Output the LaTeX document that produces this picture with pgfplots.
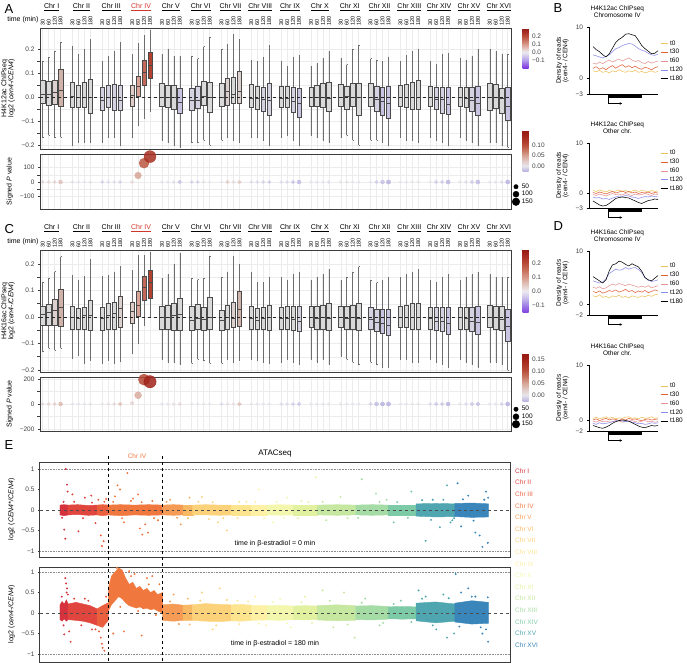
\documentclass[border=0pt]{standalone}
\usepackage{fontspec}
\setmainfont{Liberation Sans}
\usepackage{pgfplots}
\usepackage{pgfplotstable}
\pgfplotsset{compat=1.18}
\usepgfplotslibrary{statistics}
\usetikzlibrary{arrows.meta}

\newcommand\fz[1]{\fontsize{#1bp}{#1bp}\selectfont}

\definecolor{frm}{HTML}{3C3C3C}
\definecolor{bxl}{HTML}{4A4A4A}
\definecolor{wsk}{HTML}{6E6E6E}
\definecolor{grd}{HTML}{ECECEC}
\definecolor{txt}{HTML}{404040}
\definecolor{chrred}{HTML}{D0352A}
% box fills
\definecolor{g0}{HTML}{D9D9D9}
\definecolor{gp1}{HTML}{D5D3E1}
\definecolor{gp2}{HTML}{CAC4E3}
\definecolor{gb1}{HTML}{DCD1CE}
\definecolor{gb2}{HTML}{CFB3AB}
\definecolor{r1}{HTML}{E0CDC8}
\definecolor{r2}{HTML}{D9A497}
\definecolor{r3}{HTML}{C4695A}
\definecolor{r4}{HTML}{B3412F}
% time courses
\definecolor{tz}{HTML}{EDC25E}
\definecolor{tt}{HTML}{E0603A}
\definecolor{ts}{HTML}{E49494}
\definecolor{tw}{HTML}{8B8BE8}
% chromosomes
\definecolor{c1}{RGB}{213,50,62}
\definecolor{c2}{RGB}{224,70,62}
\definecolor{c3}{RGB}{234,95,62}
\definecolor{c4}{RGB}{240,120,62}
\definecolor{c5}{RGB}{245,155,85}
\definecolor{c6}{RGB}{248,185,100}
\definecolor{c7}{RGB}{251,210,122}
\definecolor{c8}{RGB}{253,228,143}
\definecolor{c9}{RGB}{254,240,165}
\definecolor{c10}{RGB}{243,247,174}
\definecolor{c11}{RGB}{226,241,160}
\definecolor{c12}{RGB}{198,231,160}
\definecolor{c13}{RGB}{165,219,164}
\definecolor{c14}{RGB}{125,202,166}
\definecolor{c15}{RGB}{79,166,176}
\definecolor{c16}{RGB}{58,134,187}

\tikzset{chrl/.style={font=\fz{7}, text=black, inner sep=0pt}}

\pgfplotsset{
  gg/.style={scale only axis, clip=false,
    axis line style={frm, line width=0.8bp},
    tick style={frm, line width=0.5bp}, tick align=outside, major tick length=2bp,
    ticklabel style={font=\fz{6.5}, text=txt},
    /pgf/number format/assume math mode=true,
    label style={font=\fz{7}, text=black, align=center},
    ytick pos=left},
  boxax/.style={gg, width=471bp, xmin=-0.45, xmax=78.55,
    xtick={0,1,2,3,5,6,7,8,10,11,12,13,15,16,17,18,20,21,22,23,25,26,27,28,30,31,32,33,35,36,37,38,40,41,42,43,45,46,47,48,50,51,52,53,55,56,57,58,60,61,62,63,65,66,67,68,70,71,72,73,75,76,77,78},
    xtick pos=right, major x tick style={draw=none},
    xmajorgrids, ymajorgrids, yminorgrids, minor y tick num=1,
    major grid style={grd, line width=0.5bp}, minor grid style={grd, line width=0.3bp}},
  timelab/.style={xticklabel pos=right,
    xticklabels={30,60,120,180,30,60,120,180,30,60,120,180,30,60,120,180,30,60,120,180,30,60,120,180,30,60,120,180,30,60,120,180,30,60,120,180,30,60,120,180,30,60,120,180,30,60,120,180,30,60,120,180,30,60,120,180,30,60,120,180,30,60,120,180},
    xticklabel style={rotate=90, anchor=west, font=\fz{5.5}, text=black, inner sep=0.5bp}},
  cbar/.style={scale only axis, width=6bp, at={(parent axis.north east)}, anchor=north west, xshift=3bp,
    axis line style={draw=none}, tick style={draw=none},
    yticklabel style={font=\fz{6.5}, text=txt}, /pgf/number format/assume math mode=true},
  bubble/.style={scatter, only marks, mark=*, point meta=\thisrow{m},
    scatter/use mapped color={draw=mapped color, fill=mapped color},
    visualization depends on={\thisrow{s}\as\perpointmarksize},
    scatter/@pre marker code/.append style={/tikz/mark size=\perpointmarksize},
    fill opacity=0.85, draw opacity=0.85},
  bleg/.style={legend style={at={(1,0.5)}, anchor=north west, xshift=1bp, draw=none, fill=none,
    font=\fz{6.5}, inner sep=0pt, row sep=-2.5bp, legend cell align=left}},
  bax/.style={scale only axis, width=69bp, xmin=-3.7, xmax=60, xtick=\empty, clip=false,
    axis x line*=bottom, axis y line*=left, axis line style={black, line width=0.5bp},
    ytick pos=left, tick style={black, line width=0.5bp}, tick align=outside, major tick length=2.5bp,
    ticklabel style={font=\fz{6.5}, text=txt}, /pgf/number format/assume math mode=true,
    title style={font=\fz{6.5}, align=center, at={(0.41,1)}, anchor=south, yshift=0bp},
    ylabel={Density of reads\\(cen4- / CEN4)}, ylabel style={font=\fz{6.5}, align=center},
    legend style={anchor=north west, draw=none, fill=none, font=\fz{6.5},
      inner sep=0pt, row sep=-1.2bp, legend cell align=left},
    legend image code/.code={\draw[##1, line width=0.9bp] (0bp,0bp) -- (7bp,0bp);},
    every axis plot/.append style={line width=0.55bp, mark=none}},
  eax/.style={gg, width=470.5bp, height=95bp, xmin=-563, xmax=12690, xtick=\empty,
    ytick={-1,-0.5,0,0.5,1}, yticklabels={−1,−0.5,0,0.5,1}, axis line style={frm, line width=1bp}},
  escat/.style={scatter, only marks, mark=*, mark size=0.75bp, scatter src=explicit symbolic,
    scatter/classes={1={c1},2={c2},3={c3},4={c4},5={c5},6={c6},7={c7},8={c8},9={c9},10={c10},11={c11},12={c12},13={c13},14={c14},15={c15},16={c16}}}
}

\newcommand\bx[7]{\addplot[boxplot prepared={draw direction=y, draw position=#1, lower whisker=#2, lower quartile=#3, median=#4, upper quartile=#5, upper whisker=#6, box extend=0.74, whisker extend=0.01, every whisker/.style={wsk}}, draw=bxl, fill=#7, line width=0.5bp] coordinates {};}
\newcommand\band[2]{\addplot[fill=#1, draw=#1, line width=0.4bp] coordinates {#2} -- cycle;}
\newcommand\tlines[1]{%
  \addplot[tz] table[x=x,y=t0]{#1};
  \addplot[tt] table[x=x,y=t30]{#1};
  \addplot[ts] table[x=x,y=t60]{#1};
  \addplot[tw] table[x=x,y=t120]{#1};
  \addplot[black] table[x=x,y=t180]{#1};
  \legend{t0,t30,t60,t120,t180}}
\newcommand\gene[1]{%
  \draw[line width=3.5bp] ([yshift=-2.2bp]axis cs:14,#1) -- ([yshift=-2.2bp]axis cs:45.2,#1);
  \draw[line width=0.6bp, -{Stealth[length=2.6bp,width=2.6bp]}] ([yshift=-3.5bp]axis cs:14,#1) -- ++(0bp,-6bp) -- ++(14bp,0bp);}
\newcommand\chrlabs[1]{%
  \node[chrl] at (axis cs:1.5,#1) {\underline{Chr I}};
  \node[chrl] at (axis cs:6.5,#1) {\underline{Chr II}};
  \node[chrl] at (axis cs:11.5,#1) {\underline{Chr III}};
  \node[chrl,text=chrred] at (axis cs:16.5,#1) {\underline{Chr IV}};
  \node[chrl] at (axis cs:21.5,#1) {\underline{Chr V}};
  \node[chrl] at (axis cs:26.5,#1) {\underline{Chr VI}};
  \node[chrl] at (axis cs:31.5,#1) {\underline{Chr VII}};
  \node[chrl] at (axis cs:36.5,#1) {\underline{Chr VIII}};
  \node[chrl] at (axis cs:41.5,#1) {\underline{Chr IX}};
  \node[chrl] at (axis cs:46.5,#1) {\underline{Chr X}};
  \node[chrl] at (axis cs:51.5,#1) {\underline{Chr XI}};
  \node[chrl] at (axis cs:56.5,#1) {\underline{Chr XII}};
  \node[chrl] at (axis cs:61.5,#1) {\underline{Chr XIII}};
  \node[chrl] at (axis cs:66.5,#1) {\underline{Chr XIV}};
  \node[chrl] at (axis cs:71.5,#1) {\underline{Chr XV}};
  \node[chrl] at (axis cs:76.5,#1) {\underline{Chr XVI}};}

% density profiles (B, D)
\pgfplotstableread{
x t0 t30 t60 t120 t180
0 1.5 2.0 3.0 4.6 6.2
3 1.3 2.3 2.8 4.4 5.6
6 1.6 1.8 3.2 4.2 5.2
9 1.2 2.1 2.9 4.0 4.6
12 1.4 1.7 3.3 4.3 4.2
15 1.1 2.2 3.6 4.6 4.8
18 1.5 2.5 3.2 5.2 5.9
21 1.3 2.0 3.5 5.8 7.0
24 1.7 2.4 3.8 6.0 7.6
27 1.4 2.7 3.4 6.4 8.0
30 1.2 2.2 3.7 6.6 8.6
33 1.5 2.5 4.0 6.8 8.7
36 1.3 2.1 3.6 6.7 8.5
39 1.6 2.4 3.3 6.3 8.3
42 1.2 2.0 3.5 5.8 7.4
45 1.4 1.8 3.1 5.5 6.4
48 1.1 2.2 2.9 5.3 5.8
51 1.3 2.0 3.3 4.9 5.3
54 1.5 1.7 3.0 4.6 4.8
57 1.2 2.1 3.2 4.5 4.9
60 1.4 2.3 3.4 4.7 5.4
}\BA
\pgfplotstableread{
x t0 t30 t60 t120 t180
0 0.5 0.1 -0.3 -0.8 -1.6
3 0.3 -0.1 -0.5 -1.0 -2.0
6 0.6 0.2 -0.2 -0.9 -2.4
9 0.4 0.0 -0.4 -1.2 -2.6
12 0.2 -0.2 -0.6 -1.1 -2.5
15 0.5 0.1 -0.3 -1.3 -2.1
18 0.3 0.3 -0.1 -1.0 -1.6
21 0.4 0.0 -0.3 -0.8 -1.1
24 0.6 0.2 -0.2 -0.6 -0.9
27 0.3 0.4 -0.4 -0.7 -0.8
30 0.5 0.1 -0.1 -0.5 -0.9
33 0.2 0.3 -0.3 -0.6 -1.0
36 0.4 0.0 -0.5 -0.8 -1.3
39 0.6 0.2 -0.2 -0.9 -1.6
42 0.3 -0.1 -0.4 -1.1 -1.9
45 0.5 0.1 -0.3 -0.9 -2.1
48 0.4 0.0 -0.1 -0.7 -1.8
51 0.2 0.2 -0.3 -0.8 -1.5
54 0.5 -0.1 -0.5 -0.6 -1.4
57 0.3 0.1 -0.2 -0.7 -1.2
60 0.4 0.0 -0.3 -0.8 -1.3
}\BB
\pgfplotstableread{
x t0 t30 t60 t120 t180
0 1.6 2.4 3.2 4.4 5.2
3 1.4 2.2 3.0 4.2 4.8
6 1.8 2.5 3.3 4.0 4.4
9 1.3 2.1 2.9 4.2 4.0
12 1.5 2.3 3.1 4.8 4.6
15 1.2 2.6 3.5 5.8 6.3
18 1.6 2.4 3.8 6.2 7.4
21 1.4 2.7 3.6 6.6 7.6
24 1.7 2.3 3.9 6.4 8.1
27 1.3 2.5 3.7 6.5 7.9
30 1.5 2.8 3.5 6.9 7.5
33 1.2 2.4 3.8 6.6 7.2
36 1.6 2.6 3.6 6.8 7.6
39 1.4 2.2 3.4 6.9 7.3
42 1.3 2.5 3.2 6.5 7.0
45 1.6 2.3 3.4 6.0 6.2
48 1.4 2.6 3.2 5.0 5.0
51 1.7 2.2 3.5 4.5 4.6
54 1.5 2.4 3.1 4.3 4.4
57 1.8 2.7 3.3 4.4 4.9
60 1.9 2.5 3.5 4.6 5.4
}\DA
\pgfplotstableread{
x t0 t30 t60 t120 t180
0 0.3 0.0 -0.2 -0.6 -1.0
3 0.5 0.2 -0.4 -0.8 -1.2
6 0.2 -0.1 -0.1 -0.5 -1.4
9 0.4 0.1 -0.3 -0.7 -1.5
12 0.6 0.3 -0.2 -0.6 -1.3
15 0.3 0.0 -0.4 -0.5 -1.0
18 0.5 0.2 -0.3 -0.3 -0.6
21 0.2 0.1 -0.1 -0.2 -0.3
24 0.4 -0.1 -0.2 -0.1 -0.1
27 0.3 0.2 -0.4 -0.2 0.0
30 0.5 0.0 -0.3 -0.3 -0.1
33 0.6 0.3 -0.2 -0.2 -0.2
36 0.3 0.1 -0.1 -0.4 -0.5
39 0.4 0.2 -0.3 -0.5 -0.8
42 0.2 0.0 -0.4 -0.7 -1.1
45 0.5 -0.1 -0.2 -0.6 -1.3
48 0.3 0.1 -0.1 -0.8 -1.4
51 0.4 0.2 -0.3 -0.7 -1.2
54 0.6 0.0 -0.2 -0.5 -1.0
57 0.3 0.1 -0.4 -0.6 -1.1
60 0.4 0.2 -0.3 -0.5 -1.0
}\DB

\begin{document}
\begin{tikzpicture}
\path[use as bounding box] (0bp,0bp) rectangle (687bp,-663bp);

% ---------------- A: H4K12ac boxes ----------------
\begin{axis}[boxax, timelab, at={(40bp,-28bp)}, anchor=north west, height=121bp,
  ymin=-0.217, ymax=0.2875, ytick={-0.2,-0.1,0,0.1,0.2}, yticklabels={−0.2,−0.1,0.0,0.1,0.2},
  ylabel={H4K12ac ChIPseq\\log2 (\textit{cen4-/CEN4})},
  colorbar, colormap={boxA}{rgb255=(125,50,225) rgb255=(180,160,232) rgb255=(238,236,240) rgb255=(215,150,135) rgb255=(185,75,55) rgb255=(150,22,18)},
  point meta min=-0.2, point meta max=0.3,
  colorbar style={cbar, height=40bp, ytick={-0.1,0,0.1,0.2}, yticklabels={−0.1,0.0,0.1,0.2}}]
\bx{0}{-0.17}{-0.025}{0.013}{0.07}{0.15}{g0}
\bx{1}{-0.16}{-0.035}{0.01}{0.065}{0.165}{g0}
\bx{2}{-0.17}{-0.03}{0.018}{0.07}{0.19}{gb1}
\bx{3}{-0.167}{-0.04}{0.028}{0.115}{0.23}{gb2}
\bx{5}{-0.2}{-0.045}{0.005}{0.06}{0.21}{g0}
\bx{6}{-0.19}{-0.045}{0}{0.05}{0.18}{g0}
\bx{7}{-0.19}{-0.045}{0}{0.06}{0.2}{g0}
\bx{8}{-0.19}{-0.07}{0}{0.075}{0.24}{g0}
\bx{10}{-0.19}{-0.055}{-0.015}{0.04}{0.15}{gp1}
\bx{11}{-0.17}{-0.045}{0}{0.05}{0.17}{gp1}
\bx{12}{-0.17}{-0.055}{0}{0.055}{0.19}{gp1}
\bx{13}{-0.2}{-0.055}{-0.015}{0.05}{0.23}{gp1}
\bx{15}{-0.17}{-0.037}{0.008}{0.05}{0.18}{r1}
\bx{16}{-0.12}{0.001}{0.046}{0.088}{0.225}{r2}
\bx{17}{-0.09}{0.05}{0.101}{0.154}{0.258}{r3}
\bx{18}{-0.06}{0.078}{0.133}{0.185}{0.28}{r4}
\bx{20}{-0.18}{-0.04}{0}{0.058}{0.18}{g0}
\bx{21}{-0.19}{-0.043}{0}{0.05}{0.2}{g0}
\bx{22}{-0.2}{-0.05}{0}{0.05}{0.17}{g0}
\bx{23}{-0.21}{-0.07}{-0.02}{0.037}{0.17}{gp2}
\bx{25}{-0.19}{-0.055}{-0.014}{0.037}{0.17}{gp1}
\bx{26}{-0.19}{-0.048}{-0.012}{0.043}{0.16}{gp1}
\bx{27}{-0.18}{-0.035}{0.005}{0.066}{0.21}{g0}
\bx{28}{-0.2}{-0.065}{0}{0.06}{0.25}{g0}
\bx{30}{-0.18}{-0.04}{0}{0.058}{0.2}{g0}
\bx{31}{-0.17}{-0.033}{0.025}{0.079}{0.22}{gb1}
\bx{32}{-0.18}{-0.025}{0.012}{0.083}{0.26}{g0}
\bx{33}{-0.19}{-0.025}{0.025}{0.108}{0.24}{gb1}
\bx{35}{-0.17}{-0.045}{-0.004}{0.054}{0.154}{g0}
\bx{36}{-0.17}{-0.05}{-0.007}{0.046}{0.147}{g0}
\bx{37}{-0.18}{-0.06}{-0.01}{0.042}{0.167}{gp1}
\bx{38}{-0.2}{-0.077}{-0.015}{0.058}{0.215}{gp1}
\bx{40}{-0.17}{-0.045}{-0.004}{0.046}{0.15}{g0}
\bx{41}{-0.16}{-0.045}{-0.007}{0.043}{0.13}{g0}
\bx{42}{-0.18}{-0.065}{-0.019}{0.04}{0.167}{gp1}
\bx{43}{-0.2}{-0.083}{-0.026}{0.036}{0.174}{gp2}
\bx{45}{-0.16}{-0.04}{-0.003}{0.04}{0.13}{g0}
\bx{46}{-0.17}{-0.04}{0}{0.05}{0.14}{g0}
\bx{47}{-0.18}{-0.045}{-0.003}{0.057}{0.16}{g0}
\bx{48}{-0.19}{-0.06}{-0.005}{0.06}{0.19}{g0}
\bx{50}{-0.17}{-0.04}{0}{0.054}{0.16}{g0}
\bx{51}{-0.16}{-0.05}{0.003}{0.046}{0.135}{g0}
\bx{52}{-0.18}{-0.037}{0}{0.058}{0.2}{g0}
\bx{53}{-0.2}{-0.077}{-0.003}{0.056}{0.215}{g0}
\bx{55}{-0.18}{-0.04}{0}{0.056}{0.16}{g0}
\bx{56}{-0.18}{-0.06}{-0.01}{0.043}{0.155}{gp1}
\bx{57}{-0.19}{-0.077}{-0.019}{0.04}{0.15}{gp2}
\bx{58}{-0.2}{-0.087}{-0.026}{0.046}{0.165}{gp2}
\bx{60}{-0.17}{-0.04}{0}{0.05}{0.15}{g0}
\bx{61}{-0.18}{-0.045}{0}{0.054}{0.174}{g0}
\bx{62}{-0.18}{-0.05}{0}{0.06}{0.19}{g0}
\bx{63}{-0.19}{-0.05}{0}{0.07}{0.2}{g0}
\bx{65}{-0.17}{-0.04}{0}{0.043}{0.147}{g0}
\bx{66}{-0.18}{-0.05}{-0.01}{0.04}{0.137}{gp1}
\bx{67}{-0.19}{-0.066}{-0.01}{0.04}{0.178}{gp1}
\bx{68}{-0.2}{-0.074}{-0.03}{0.04}{0.183}{gp2}
\bx{70}{-0.17}{-0.04}{0}{0.04}{0.16}{g0}
\bx{71}{-0.18}{-0.045}{-0.005}{0.04}{0.155}{g0}
\bx{72}{-0.19}{-0.06}{-0.015}{0.04}{0.17}{gp1}
\bx{73}{-0.2}{-0.075}{-0.025}{0.045}{0.2}{gp2}
\bx{75}{-0.19}{-0.054}{0}{0.058}{0.2}{g0}
\bx{76}{-0.19}{-0.046}{0}{0.054}{0.19}{g0}
\bx{77}{-0.2}{-0.067}{-0.004}{0.037}{0.18}{g0}
\bx{78}{-0.21}{-0.096}{-0.04}{0.042}{0.18}{gp2}
\addplot[dashed, black!85, line width=0.6bp] coordinates {(-0.45,0) (78.55,0)};
\chrlabs{0.375}
\end{axis}

% ---------------- A: signed P ----------------
\begin{axis}[boxax, at={(40bp,-154bp)}, anchor=north west, height=55bp, xticklabels={},
  ymin=-186, ymax=193, ytick={-100,0,100}, yticklabels={−100,0,100}, minor y tick num=1,
  ylabel={Signed \textit{P} value}, bleg,
  colorbar, colormap={bub}{rgb255=(185,180,225) rgb255=(232,230,236) rgb255=(225,200,195) rgb255=(215,165,150) rgb255=(200,120,100) rgb255=(185,80,60) rgb255=(172,55,40) rgb255=(160,35,25) rgb255=(150,25,18)},
  point meta min=-0.025, point meta max=0.175,
  colorbar style={cbar, height=41bp, yshift=24bp, ytick={0,0.05,0.1}, yticklabels={0.00,0.05,0.10}}]
\addlegendimage{only marks, mark=*, mark size=2.2bp, black}
\addlegendimage{only marks, mark=*, mark size=3bp, black}
\addlegendimage{only marks, mark=*, mark size=3.8bp, black}
\addplot[bubble] table {
x y s m
0 0 1.7 0.012
1 0 1.7 0.01
2 0 1.7 0.015
3 0 2.0 0.03
5 0 1.6 0.004
6 0 1.6 0.0
7 0 1.6 0.0
8 0 1.6 0.003
10 0 1.6 -0.01
11 0 1.6 -0.004
12 0 1.6 -0.004
13 0 1.7 -0.008
15 0 1.8 0.01
16 45 3.3 0.05
17 130 5.0 0.095
18 175 6.0 0.135
20 0 1.6 0.0
21 0 1.6 0.0
22 0 1.6 -0.003
23 0 1.9 -0.018
25 0 1.6 -0.01
26 0 1.6 -0.01
27 0 1.6 0.005
28 0 1.6 0.0
30 0 1.6 0.0
31 0 1.8 0.02
32 0 1.7 0.01
33 0 1.9 0.025
35 0 1.6 -0.004
36 0 1.6 -0.006
37 0 1.6 -0.01
38 0 1.7 -0.014
40 0 1.6 -0.004
41 0 1.6 -0.006
42 0 1.8 -0.016
43 0 2.0 -0.022
45 0 1.6 0.0
46 0 1.6 0.0
47 0 1.6 0.0
48 0 1.6 -0.004
50 0 1.6 0.0
51 0 1.6 0.003
52 0 1.6 0.0
53 0 1.6 0.0
55 0 1.6 0.0
56 0 1.8 -0.012
57 0 2.0 -0.018
58 0 2.2 -0.024
60 0 1.6 0.0
61 0 1.6 0.0
62 0 1.6 0.0
63 0 1.6 0.0
65 0 1.6 0.0
66 0 1.8 -0.012
67 0 1.8 -0.012
68 0 2.1 -0.022
70 0 1.6 0.0
71 0 1.6 -0.004
72 0 1.8 -0.012
73 0 2.1 -0.02
75 0 1.6 0.0
76 0 1.6 0.0
77 0 1.6 -0.004
78 0 2.1 -0.025
};
\legend{50,100,150}
\end{axis}

% ---------------- C: H4K16ac boxes ----------------
\begin{axis}[boxax, timelab, at={(40bp,-250bp)}, anchor=north west, height=122bp,
  ymin=-0.208, ymax=0.253, ytick={-0.2,-0.1,0,0.1,0.2}, yticklabels={−0.2,−0.1,0.0,0.1,0.2},
  ylabel={H4K16ac ChIPseq\\log2 (\textit{cen4-/CEN4})},
  colorbar, colormap={boxC}{rgb255=(130,70,225) rgb255=(160,130,230) rgb255=(200,190,235) rgb255=(238,236,240) rgb255=(225,195,185) rgb255=(215,150,135) rgb255=(200,110,90) rgb255=(185,75,55) rgb255=(168,45,35) rgb255=(150,22,18)},
  point meta min=-0.15, point meta max=0.3,
  colorbar style={cbar, height=63bp, yshift=1bp, ytick={-0.1,0,0.1,0.2}, yticklabels={−0.1,0.0,0.1,0.2}}]
\bx{0}{-0.131}{-0.03}{0.011}{0.039}{0.133}{g0}
\bx{1}{-0.117}{-0.03}{0.019}{0.049}{0.148}{g0}
\bx{2}{-0.125}{-0.03}{0.026}{0.068}{0.171}{gb1}
\bx{3}{-0.117}{-0.035}{0.035}{0.105}{0.228}{gb2}
\bx{5}{-0.155}{-0.045}{-0.001}{0.039}{0.158}{g0}
\bx{6}{-0.143}{-0.045}{-0.005}{0.033}{0.14}{g0}
\bx{7}{-0.175}{-0.045}{0.005}{0.037}{0.152}{g0}
\bx{8}{-0.162}{-0.05}{0.005}{0.062}{0.218}{g0}
\bx{10}{-0.175}{-0.05}{-0.005}{0.037}{0.152}{g0}
\bx{11}{-0.162}{-0.045}{0.008}{0.05}{0.158}{g0}
\bx{12}{-0.175}{-0.045}{0.015}{0.055}{0.17}{g0}
\bx{13}{-0.168}{-0.04}{0.033}{0.08}{0.19}{gb1}
\bx{15}{-0.137}{-0.023}{0.02}{0.054}{0.177}{r1}
\bx{16}{-0.1}{0.001}{0.045}{0.096}{0.234}{r2}
\bx{17}{-0.03}{0.064}{0.114}{0.152}{0.234}{r3}
\bx{18}{0.0}{0.07}{0.131}{0.177}{0.246}{r4}
\bx{20}{-0.16}{-0.045}{0}{0.04}{0.147}{g0}
\bx{21}{-0.17}{-0.045}{0}{0.043}{0.16}{g0}
\bx{22}{-0.17}{-0.05}{0.005}{0.052}{0.2}{g0}
\bx{23}{-0.18}{-0.05}{0.01}{0.07}{0.24}{g0}
\bx{25}{-0.175}{-0.05}{-0.011}{0.04}{0.147}{g0}
\bx{26}{-0.16}{-0.045}{-0.005}{0.048}{0.141}{g0}
\bx{27}{-0.165}{-0.05}{-0.008}{0.035}{0.147}{g0}
\bx{28}{-0.175}{-0.045}{0}{0.075}{0.231}{g0}
\bx{30}{-0.175}{-0.05}{-0.011}{0.025}{0.15}{g0}
\bx{31}{-0.16}{-0.045}{0}{0.043}{0.17}{g0}
\bx{32}{-0.17}{-0.04}{-0.005}{0.057}{0.23}{gb1}
\bx{33}{-0.165}{-0.035}{0.03}{0.096}{0.2}{gb2}
\bx{35}{-0.16}{-0.045}{-0.006}{0.04}{0.17}{g0}
\bx{36}{-0.165}{-0.045}{-0.011}{0.034}{0.13}{g0}
\bx{37}{-0.17}{-0.045}{-0.006}{0.037}{0.13}{g0}
\bx{38}{-0.175}{-0.05}{0}{0.045}{0.15}{g0}
\bx{40}{-0.17}{-0.045}{-0.005}{0.035}{0.15}{g0}
\bx{41}{-0.16}{-0.045}{-0.005}{0.04}{0.14}{g0}
\bx{42}{-0.17}{-0.05}{-0.01}{0.04}{0.16}{g0}
\bx{43}{-0.18}{-0.055}{-0.015}{0.04}{0.17}{gp1}
\bx{45}{-0.16}{-0.04}{0}{0.04}{0.14}{g0}
\bx{46}{-0.17}{-0.045}{-0.005}{0.04}{0.15}{g0}
\bx{47}{-0.16}{-0.045}{0}{0.045}{0.16}{g0}
\bx{48}{-0.18}{-0.05}{-0.005}{0.05}{0.18}{g0}
\bx{50}{-0.15}{-0.04}{0}{0.04}{0.14}{g0}
\bx{51}{-0.16}{-0.045}{-0.005}{0.04}{0.15}{g0}
\bx{52}{-0.17}{-0.045}{0}{0.045}{0.17}{g0}
\bx{53}{-0.18}{-0.05}{-0.005}{0.05}{0.19}{g0}
\bx{55}{-0.17}{-0.045}{-0.01}{0.035}{0.14}{gp1}
\bx{56}{-0.18}{-0.055}{-0.02}{0.03}{0.13}{gp1}
\bx{57}{-0.19}{-0.06}{-0.025}{0.03}{0.14}{gp2}
\bx{58}{-0.19}{-0.07}{-0.03}{0.03}{0.15}{gp2}
\bx{60}{-0.16}{-0.04}{0}{0.04}{0.15}{g0}
\bx{61}{-0.16}{-0.04}{0}{0.045}{0.16}{g0}
\bx{62}{-0.17}{-0.045}{0}{0.05}{0.17}{g0}
\bx{63}{-0.17}{-0.045}{0}{0.05}{0.18}{g0}
\bx{65}{-0.16}{-0.045}{-0.005}{0.035}{0.14}{g0}
\bx{66}{-0.17}{-0.05}{-0.015}{0.035}{0.13}{gp1}
\bx{67}{-0.18}{-0.055}{-0.015}{0.035}{0.15}{gp1}
\bx{68}{-0.19}{-0.065}{-0.025}{0.035}{0.16}{gp2}
\bx{70}{-0.16}{-0.045}{0}{0.035}{0.14}{g0}
\bx{71}{-0.17}{-0.045}{-0.005}{0.035}{0.15}{g0}
\bx{72}{-0.18}{-0.055}{-0.015}{0.035}{0.16}{gp1}
\bx{73}{-0.19}{-0.065}{-0.02}{0.04}{0.17}{gp2}
\bx{75}{-0.17}{-0.04}{0}{0.045}{0.16}{g0}
\bx{76}{-0.17}{-0.045}{0}{0.04}{0.15}{g0}
\bx{77}{-0.18}{-0.05}{-0.01}{0.04}{0.15}{g0}
\bx{78}{-0.2}{-0.09}{-0.035}{0.03}{0.15}{gp2}
\addplot[dashed, black!85, line width=0.6bp] coordinates {(-0.45,0) (78.55,0)};
\chrlabs{0.336}
\end{axis}

% ---------------- C: signed P ----------------
\begin{axis}[boxax, at={(40bp,-377bp)}, anchor=north west, height=54bp, xticklabels={},
  ymin=-216, ymax=216, ytick={-200,0,200}, yticklabels={−200,0,200}, minor y tick num=1,
  ylabel={Signed \textit{P} value}, bleg,
  colorbar, colormap={bub}{rgb255=(185,180,225) rgb255=(232,230,236) rgb255=(225,200,195) rgb255=(215,165,150) rgb255=(200,120,100) rgb255=(185,80,60) rgb255=(172,55,40) rgb255=(160,35,25) rgb255=(150,25,18)},
  point meta min=-0.025, point meta max=0.175,
  colorbar style={cbar, height=48bp, yshift=24bp, ytick={0,0.05,0.1,0.15}, yticklabels={0.00,0.05,0.10,0.15}}]
\addlegendimage{only marks, mark=*, mark size=2.2bp, black}
\addlegendimage{only marks, mark=*, mark size=3bp, black}
\addlegendimage{only marks, mark=*, mark size=3.8bp, black}
\addplot[bubble] table {
x y s m
0 0 1.7 0.01
1 0 1.7 0.015
2 0 1.7 0.02
3 0 2.0 0.035
5 0 1.6 0.0
6 0 1.6 0.0
7 0 1.6 0.0
8 0 1.6 0.003
10 0 1.6 0.0
11 0 1.6 0.005
12 0 1.7 0.01
13 0 1.9 0.03
15 8 1.9 0.015
16 70 3.5 0.045
17 195 5.6 0.11
18 178 6.2 0.15
20 0 1.6 0.0
21 0 1.6 0.0
22 0 1.6 0.005
23 0 1.7 0.01
25 0 1.6 0.0
26 0 1.6 0.0
27 0 1.6 0.0
28 0 1.6 0.0
30 0 1.6 -0.005
31 0 1.6 0.005
32 0 1.6 0.005
33 0 1.9 0.03
35 0 1.6 0.0
36 0 1.6 0.0
37 0 1.6 0.0
38 0 1.6 0.0
40 0 1.6 -0.005
41 0 1.6 -0.005
42 0 1.7 -0.01
43 0 1.8 -0.015
45 0 1.6 0.0
46 0 1.6 0.0
47 0 1.6 0.0
48 0 1.6 0.0
50 0 1.6 0.0
51 0 1.6 0.0
52 0 1.6 0.0
53 0 1.6 0.0
55 0 1.8 -0.01
56 0 2.0 -0.02
57 0 2.1 -0.025
58 0 2.2 -0.03
60 0 1.6 0.0
61 0 1.6 0.0
62 0 1.6 0.0
63 0 1.6 0.0
65 0 1.6 -0.005
66 0 1.8 -0.015
67 0 1.8 -0.015
68 0 2.0 -0.025
70 0 1.6 0.0
71 0 1.6 -0.005
72 0 1.8 -0.015
73 0 1.9 -0.02
75 0 1.6 0.0
76 0 1.6 0.0
77 0 1.7 -0.01
78 0 2.1 -0.035
};
\legend{50,100,150}
\end{axis}

% ---------------- B, D: density profiles ----------------
\begin{axis}[bax, at={(589bp,-27bp)}, anchor=north west, height=67bp, ymin=-3, ymax=10,
  ytick={-3,0,10}, yticklabels={−3,0,10}, title={H4K12ac ChIPseq\\Chromosome IV},
  legend style={at={(1.03,0.83)}}]
\tlines{\BA}
\gene{-3}
\end{axis}
\begin{axis}[bax, at={(589bp,-143bp)}, anchor=north west, height=65bp, ymin=-3, ymax=10,
  ytick={-3,0,10}, yticklabels={−3,0,10}, title={H4K12ac ChIPseq\\Other chr.},
  legend style={at={(1.03,0.92)}}]
\tlines{\BB}
\gene{-3}
\end{axis}
\begin{axis}[bax, at={(589bp,-251bp)}, anchor=north west, height=64bp, ymin=-2, ymax=10,
  ytick={-2,0,10}, yticklabels={−2,0,10}, title={H4K16ac ChIPseq\\Chromosome IV},
  legend style={at={(1.03,0.84)}}]
\tlines{\DA}
\gene{-2}
\end{axis}
\begin{axis}[bax, at={(589bp,-365bp)}, anchor=north west, height=66bp, ymin=-2, ymax=10,
  ytick={-2,0,10}, yticklabels={−2,0,10}, title={H4K16ac ChIPseq\\Other chr.},
  legend style={at={(1.03,0.76)}}]
\tlines{\DB}
\gene{-2}
\end{axis}

% ---------------- E: ATACseq ----------------
\begin{axis}[eax, at={(40bp,-462bp)}, anchor=north west, ymin=-1.146, ymax=1.17,
  ylabel={log2 (\textit{CEN4*/CEN4})}]
\draw[densely dotted, black!45, line width=0.6bp] (axis cs:-563,1) -- (axis cs:12690,1);
\draw[densely dotted, black!45, line width=0.6bp] (axis cs:-563,-1) -- (axis cs:12690,-1);
\band{c1}{(0,0.12)(115,0.13)(230,0.12)(230,-0.12)(115,-0.14)(0,-0.12)}
\band{c2}{(230,0.12)(500,0.13)(800,0.11)(1043,0.12)(1043,-0.12)(800,-0.13)(500,-0.11)(230,-0.12)}
\band{c3}{(1043,0.12)(1200,0.13)(1360,0.12)(1360,-0.12)(1200,-0.14)(1043,-0.12)}
\band{c4}{(1360,0.12)(1700,0.13)(2100,0.12)(2500,0.13)(2892,0.12)(2892,-0.12)(2500,-0.13)(2100,-0.12)(1700,-0.14)(1360,-0.12)}
\band{c5}{(2892,0.12)(3200,0.13)(3469,0.12)(3469,-0.12)(3200,-0.13)(2892,-0.12)}
\band{c6}{(3469,0.12)(3739,0.12)(3739,-0.12)(3469,-0.12)}
\band{c7}{(3739,0.12)(4100,0.13)(4500,0.12)(4830,0.12)(4830,-0.12)(4500,-0.13)(4100,-0.12)(3739,-0.12)}
\band{c8}{(4830,0.12)(5100,0.12)(5393,0.12)(5393,-0.12)(5100,-0.12)(4830,-0.12)}
\band{c9}{(5393,0.12)(5833,0.12)(5833,-0.12)(5393,-0.12)}
\band{c10}{(5833,0.12)(6200,0.13)(6579,0.12)(6579,-0.12)(6200,-0.13)(5833,-0.12)}
\band{c11}{(6579,0.12)(6900,0.12)(7246,0.12)(7246,-0.12)(6900,-0.12)(6579,-0.12)}
\band{c12}{(7246,0.12)(7800,0.13)(8324,0.12)(8324,-0.12)(7800,-0.13)(7246,-0.12)}
\band{c13}{(8324,0.12)(8800,0.13)(9248,0.12)(9248,-0.12)(8800,-0.13)(8324,-0.12)}
\band{c14}{(9248,0.12)(9640,0.12)(10032,0.12)(10032,-0.12)(9640,-0.12)(9248,-0.12)}
\band{c15}{(10032,0.15)(10580,0.16)(11123,0.15)(11123,-0.16)(10580,-0.17)(10032,-0.15)}
\band{c16}{(11123,0.16)(11600,0.17)(12071,0.15)(12071,-0.17)(11600,-0.18)(11123,-0.16)}
\addplot[escat] table[meta=c] {
x y c
161 1.0 1
198 0.62 1
215 0.45 1
150 -0.7 1
120 -0.48 1
100 0.2 1
60 -0.19 1
350 0.38 2
520 -0.52 2
700 0.3 2
880 0.35 2
1000 -0.32 2
400 0.2 2
650 -0.2 2
900 0.18 2
1080 0.25 3
1150 -0.62 3
1180 -0.88 3
1230 -0.76 3
1300 0.27 3
1250 0.2 3
1900 0.9 4
1620 0.6 4
1690 0.5 4
1550 0.33 4
2060 0.28 4
2200 0.38 4
2250 -0.45 4
2320 -0.6 4
2400 -0.35 4
2480 -0.55 4
2600 0.22 4
1800 -0.3 4
2760 -0.25 4
1500 0.2 4
1750 -0.2 4
2000 0.22 4
2300 0.19 4
2650 -0.2 4
3100 0.25 5
3400 -0.35 5
3000 0.2 5
3300 -0.19 5
3650 0.3 6
3600 -0.2 6
4000 0.32 7
4200 -0.22 7
4450 -0.3 7
4700 -0.5 7
3900 0.2 7
4300 0.19 7
4600 -0.2 7
5050 0.2 8
5000 -0.19 8
5250 0.2 8
5600 0.5 9
5500 0.19 9
5750 -0.2 9
6000 -0.3 10
6400 0.3 10
6100 0.2 10
6300 -0.19 10
6800 0.22 11
7200 0.8 11
6700 -0.2 11
7000 0.19 11
7500 -0.25 12
7900 0.32 12
7400 0.2 12
8100 -0.2 12
8500 0.75 13
8900 0.4 13
9200 0.25 13
8400 -0.19 13
9000 0.2 13
9400 -0.3 14
9900 0.45 14
9500 0.19 14
9800 -0.19 14
10300 -0.75 15
10500 0.25 15
10700 -0.42 15
10900 0.6 15
11000 -0.3 15
11100 -0.2 15
10200 0.24 15
10450 -0.24 15
10800 0.25 15
11050 -0.25 15
11200 0.65 16
11300 -0.4 16
11500 0.35 16
11700 -0.55 16
11820 -0.62 16
11900 -0.9 16
12000 0.45 16
12050 -0.8 16
12060 0.3 16
11350 0.26 16
11650 -0.26 16
11950 0.25 16
};
\draw[dashed, black!70, line width=0.6bp] (axis cs:-563,0) -- (axis cs:12690,0);
\draw[dashed, black, line width=0.6bp] (axis cs:1360,1.32) -- (axis cs:1360,-1.146);
\draw[dashed, black, line width=0.6bp] (axis cs:2892,1.32) -- (axis cs:2892,-1.146);
\node[font=\fz{7}] at (axis cs:6056,-0.83) {time in β-estradiol = 0 min};
\end{axis}

\begin{axis}[eax, at={(40bp,-567bp)}, anchor=north west, ymin=-1.195, ymax=1.122,
  ylabel={log2 (\textit{cen4-/CEN4})}]
\draw[densely dotted, black!45, line width=0.6bp] (axis cs:-563,1) -- (axis cs:12690,1);
\draw[densely dotted, black!45, line width=0.6bp] (axis cs:-563,-1) -- (axis cs:12690,-1);
\band{c1}{(0,0.2)(60,0.28)(120,0.22)(180,0.32)(230,0.22)(230,-0.16)(180,-0.2)(120,-0.14)(60,-0.2)(0,-0.16)}
\band{c2}{(230,0.22)(450,0.26)(650,0.22)(850,0.18)(1043,0.1)(1043,-0.3)(850,-0.24)(650,-0.2)(450,-0.18)(230,-0.16)}
\band{c3}{(1043,0.1)(1200,0.18)(1360,0.25)(1360,-0.18)(1200,-0.35)(1043,-0.3)}
\band{c4}{(1360,0.6)(1450,0.9)(1550,1.0)(1650,1.1)(1750,1.05)(1850,0.85)(1950,0.7)(2050,0.75)(2150,0.6)(2250,0.65)(2350,0.55)(2450,0.6)(2550,0.5)(2650,0.55)(2750,0.45)(2892,0.5)(2892,0.0)(2750,0.05)(2650,0.1)(2550,0.08)(2450,0.12)(2350,0.1)(2250,0.15)(2150,0.12)(2050,0.15)(1950,0.18)(1850,0.25)(1750,0.35)(1650,0.4)(1550,0.3)(1450,0.2)(1360,0.05)}
\band{c5}{(2892,0.2)(3200,0.22)(3469,0.19)(3469,-0.18)(3200,-0.2)(2892,-0.18)}
\band{c6}{(3469,0.19)(3739,0.2)(3739,-0.18)(3469,-0.18)}
\band{c7}{(3739,0.2)(4100,0.23)(4500,0.21)(4830,0.2)(4830,-0.19)(4500,-0.21)(4100,-0.2)(3739,-0.18)}
\band{c8}{(4830,0.2)(5100,0.21)(5393,0.19)(5393,-0.18)(5100,-0.2)(4830,-0.19)}
\band{c9}{(5393,0.19)(5833,0.18)(5833,-0.17)(5393,-0.18)}
\band{c10}{(5833,0.18)(6200,0.19)(6579,0.17)(6579,-0.16)(6200,-0.18)(5833,-0.17)}
\band{c11}{(6579,0.17)(6900,0.18)(7246,0.17)(7246,-0.16)(6900,-0.17)(6579,-0.16)}
\band{c12}{(7246,0.18)(7800,0.2)(8324,0.18)(8324,-0.18)(7800,-0.19)(7246,-0.17)}
\band{c13}{(8324,0.17)(8800,0.18)(9248,0.16)(9248,-0.15)(8800,-0.17)(8324,-0.16)}
\band{c14}{(9248,0.15)(9640,0.16)(10032,0.15)(10032,-0.14)(9640,-0.15)(9248,-0.14)}
\band{c15}{(10032,0.24)(10580,0.27)(11123,0.22)(11123,-0.2)(10580,-0.24)(10032,-0.19)}
\band{c16}{(11123,0.24)(11600,0.3)(12071,0.26)(12071,-0.25)(11600,-0.27)(11123,-0.22)}
\addplot[escat] table[meta=c] {
x y c
150 0.85 1
170 0.72 1
200 0.6 1
185 0.5 1
222 0.45 1
120 -0.52 1
50 0.4 1
100 -0.3 1
260 -0.45 2
300 -0.7 2
700 0.35 2
900 -0.4 2
400 0.35 2
600 -0.3 2
800 0.3 2
1000 -0.4 2
1150 -0.6 3
1200 -0.85 3
1250 -0.92 3
1180 -0.75 3
1300 0.4 3
1100 -0.45 3
1500 -0.5 4
1800 -0.45 4
1950 1.02 4
2100 0.95 4
2300 -0.55 4
2450 0.85 4
2600 0.9 4
2800 0.7 4
1600 1.1 4
1700 0.15 4
2000 0.9 4
2200 0.05 4
2500 0.7 4
2700 -0.05 4
3200 0.45 5
3100 0.28 5
3350 -0.27 5
3600 0.35 6
3650 -0.28 6
4000 0.5 7
4300 -0.4 7
4500 0.6 7
3950 0.3 7
4400 -0.3 7
4700 0.32 7
5000 0.3 8
5050 -0.27 8
5300 0.28 8
5500 0.4 9
5800 -0.3 9
5600 -0.26 9
6200 0.35 10
6500 -0.35 10
6000 0.27 10
6400 -0.25 10
6900 0.4 11
6800 0.26 11
7100 -0.24 11
7400 0.55 12
7700 -0.35 12
8000 0.5 12
8300 -0.6 12
7600 0.3 12
8100 -0.28 12
8600 0.35 13
9000 -0.3 13
8500 0.25 13
9100 -0.24 13
9600 0.3 14
9400 0.22 14
9900 -0.22 14
10100 0.55 15
10300 0.4 15
10600 -0.4 15
10800 0.45 15
10900 -0.6 15
11100 -0.5 15
10200 0.35 15
10500 -0.3 15
10950 0.36 15
11146 0.95 16
11300 0.5 16
11500 0.6 16
11700 0.4 16
11900 -0.5 16
12000 -0.4 16
12060 -0.7 16
11250 -0.33 16
11600 0.4 16
11850 -0.35 16
12050 0.38 16
};
\draw[dashed, black!70, line width=0.6bp] (axis cs:-563,0) -- (axis cs:12690,0);
\draw[dashed, black, line width=0.6bp] (axis cs:1360,1.37) -- (axis cs:1360,-1.195);
\draw[dashed, black, line width=0.6bp] (axis cs:2892,1.37) -- (axis cs:2892,-1.195);
\node[font=\fz{7}] at (axis cs:6056,-0.756) {time in β-estradiol = 180 min};
\end{axis}

% ---------------- free text ----------------
\node[font=\fz{13}, anchor=west] at (1bp,-9bp) {A};
\node[font=\fz{13}, anchor=west] at (1bp,-229bp) {C};
\node[font=\fz{13}, anchor=west] at (1bp,-445bp) {E};
\node[font=\fz{13}, anchor=west] at (550bp,-8bp) {B};
\node[font=\fz{13}, anchor=west] at (550bp,-226bp) {D};
\node[font=\fz{7}, anchor=east] at (42bp,-20bp) {time (min)};
\node[font=\fz{7}, anchor=east] at (42bp,-242bp) {time (min)};
\node[font=\fz{8}] at (275bp,-454bp) {ATACseq};
\node[font=\fz{6.5}, text=c4] at (137bp,-456bp) {Chr IV};
\begin{scope}[every node/.style={font=\fz{6.5}, anchor=west, inner sep=0pt}]
\node[text=c1] at (515bp,-471bp) {Chr I};
\node[text=c2] at (515bp,-482.6bp) {Chr II};
\node[text=c3] at (515bp,-494.2bp) {Chr III};
\node[text=c4] at (515bp,-505.8bp) {Chr IV};
\node[text=c5] at (515bp,-517.4bp) {Chr V};
\node[text=c6] at (515bp,-529bp) {Chr VI};
\node[text=c7] at (515bp,-540.6bp) {Chr VII};
\node[text=c8] at (515bp,-552.2bp) {Chr VIII};
\node[text=c9] at (515bp,-563.8bp) {Chr IX};
\node[text=c10] at (515bp,-575.4bp) {Chr X};
\node[text=c11] at (515bp,-587bp) {Chr XI};
\node[text=c12] at (515bp,-598.6bp) {Chr XII};
\node[text=c13] at (515bp,-610.2bp) {Chr XIII};
\node[text=c14] at (515bp,-621.8bp) {Chr XIV};
\node[text=c15] at (515bp,-633.4bp) {Chr XV};
\node[text=c16] at (515bp,-645bp) {Chr XVI};
\end{scope}
\end{tikzpicture}
\end{document}
